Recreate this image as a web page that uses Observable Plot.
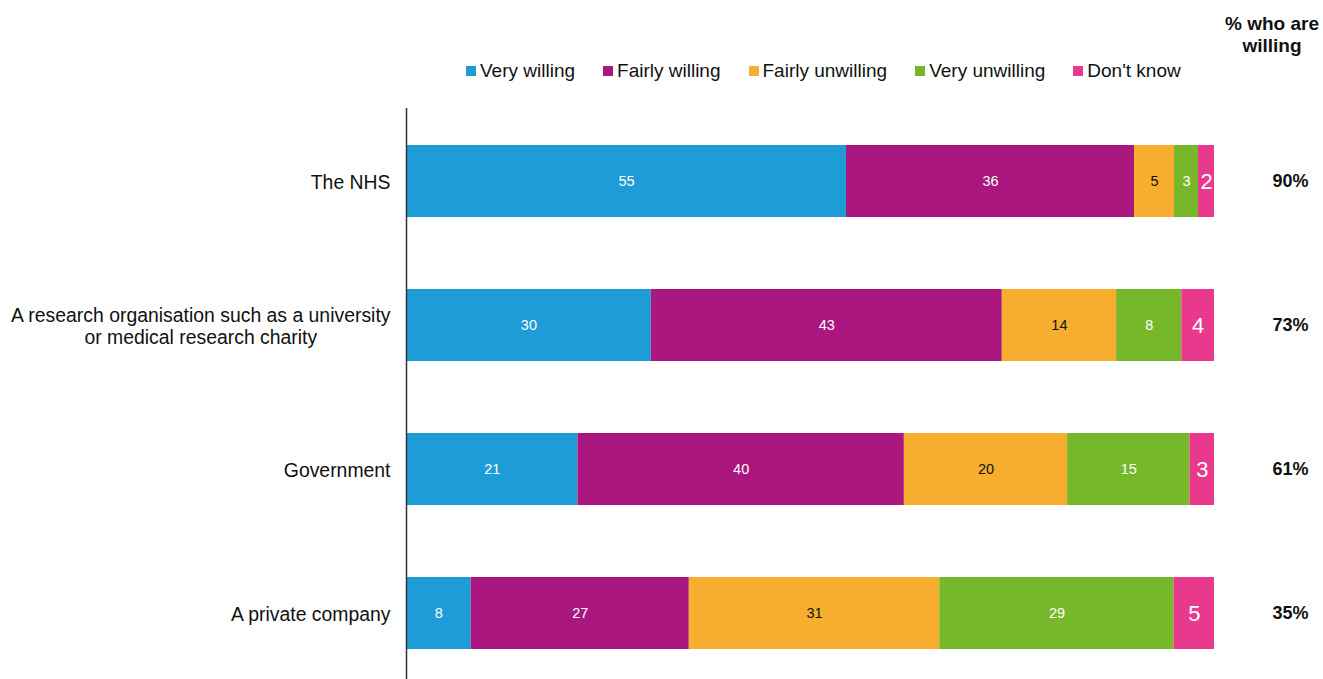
<!DOCTYPE html>
<html>
<head>
<meta charset="utf-8">
<script src="https://cdn.jsdelivr.net/npm/d3@7"></script>
<script src="https://cdn.jsdelivr.net/npm/@observablehq/plot@0.6"></script>
<style>
  html, body { margin: 0; padding: 0; background: #fff; font-family: "Liberation Sans", Arial, sans-serif; }
  #head { position: relative; width: 1323px; height: 95px; }
  #willhead { position: absolute; left: 1172px; top: 13px; width: 200px; text-align: center; font-weight: bold; font-size: 19px; line-height: 22px; color: #111; }
  #legend { position: absolute; left: 466px; top: 60px; display: flex; align-items: center; font-size: 19px; color: #111; }
  .item { display: flex; align-items: center; margin-right: 28px; }
  .item:last-child { margin-right: 0; }
  .sw { width: 10px; height: 10px; margin-right: 4px; }
</style>
</head>
<body>
<div id="head">
  <div id="willhead">% who are<br>willing</div>
  <div id="legend"></div>
</div>
<div id="chart"></div>
<script>
const categories = [
  "The NHS",
  "A research organisation such as a university\nor medical research charity",
  "Government",
  "A private company"
];
const responses = ["Very willing", "Fairly willing", "Fairly unwilling", "Very unwilling", "Don't know"];
const colors = ["#1E9CD8", "#AA177E", "#F7AE2F", "#77B82B", "#E8398C"];
const veryWilling     = [55, 30, 21, 8];
const fairlyWilling   = [36, 43, 40, 27];
const fairlyUnwilling = [5, 14, 20, 31];
const veryUnwilling   = [3, 8, 15, 29];
const dontKnow        = [2, 4, 3, 5];
const willingPct      = [90, 73, 61, 35];

const series = [veryWilling, fairlyWilling, fairlyUnwilling, veryUnwilling, dontKnow];
const data = categories.flatMap((c, i) =>
  responses.map((r, j) => ({category: c, response: r, value: series[j][i]}))
);

// legend
const leg = document.getElementById("legend");
responses.forEach((r, j) => {
  const it = document.createElement("div");
  it.className = "item";
  it.innerHTML = `<span class="sw" style="background:${colors[j]}"></span><span>${r}</span>`;
  leg.appendChild(it);
});

const stackOpts = {x: "value", y: "category", z: "response", offset: "normalize", order: responses, text: d => String(d.value)};

const chart = Plot.plot({
  width: 1323,
  height: 584,
  marginLeft: 406,
  marginRight: 109,
  marginTop: 13,
  marginBottom: 0,
  style: {fontFamily: "Liberation Sans, Arial, sans-serif", background: "#fff"},
  x: {domain: [0, 1], axis: null},
  y: {domain: categories, range: [14, 590], paddingInner: 0.5, paddingOuter: 0.25, axis: null},
  color: {domain: responses, range: colors},
  marks: [
    Plot.barX(data, Plot.stackX({...stackOpts, fill: "response"})),
    Plot.text(data, Plot.filter(d => d.response !== "Fairly unwilling" && d.response !== "Don't know",
      Plot.stackX({...stackOpts, fill: "white", fontSize: 14.5}))),
    Plot.text(data, Plot.filter(d => d.response === "Fairly unwilling",
      Plot.stackX({...stackOpts, fill: "#111", fontSize: 14.5}))),
    Plot.text(data, Plot.filter(d => d.response === "Don't know",
      Plot.stackX({...stackOpts, fill: "white", fontSize: 22}))),
    Plot.axisY({tickSize: 0, tickPadding: 16, fontSize: 19.4, lineHeight: 1.14, label: null, fill: "#111"}),
    Plot.ruleX([0], {stroke: "#333", strokeWidth: 1.5}),
    Plot.text(categories, {y: d => d, text: (d, i) => willingPct[i] + "%", frameAnchor: "right",
      textAnchor: "middle", dx: 76, fontWeight: "bold", fontSize: 18, fill: "#111"})
  ]
});
document.getElementById("chart").appendChild(chart);

// centre the lines of a wrapped category label, keeping the block right-aligned
chart.querySelectorAll("text").forEach(t => {
  const spans = t.querySelectorAll("tspan");
  if (spans.length > 1) {
    let maxW = 0;
    spans.forEach(s => { maxW = Math.max(maxW, s.getComputedTextLength()); });
    t.setAttribute("text-anchor", "middle");
    spans.forEach(s => s.setAttribute("x", -maxW / 2));
  }
});
</script>
</body>
</html>
